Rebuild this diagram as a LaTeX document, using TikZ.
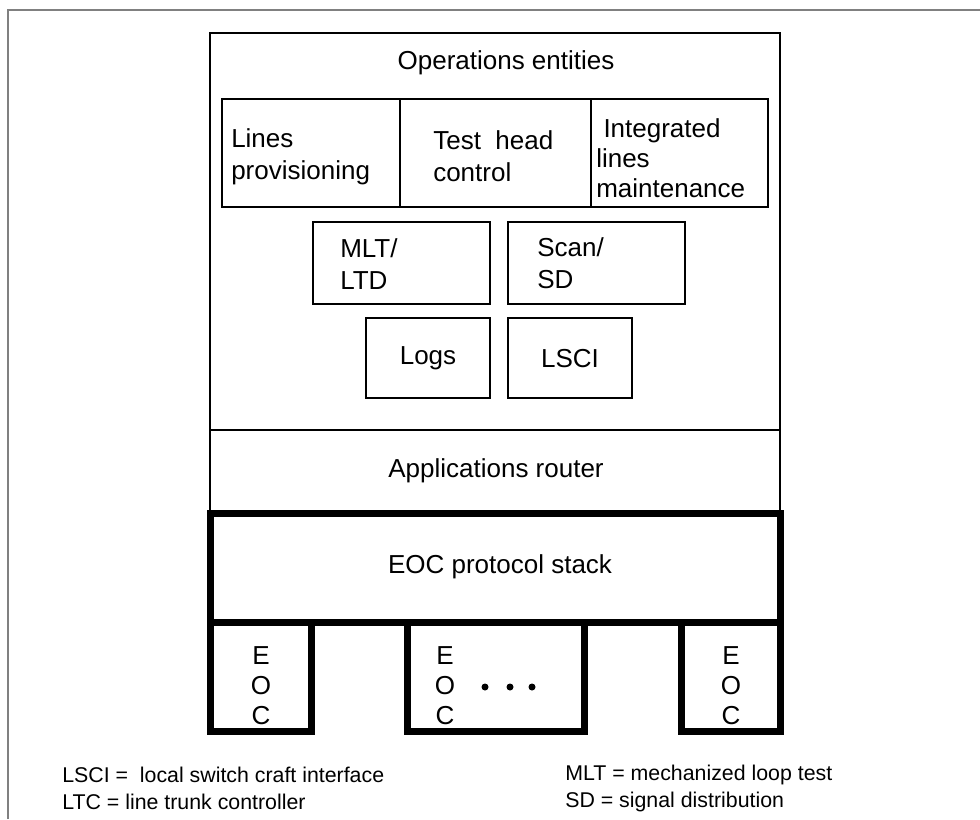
\documentclass[tikz,border=0pt]{standalone}
\usepackage{fontspec}
\setmainfont{Liberation Sans}
\usetikzlibrary{positioning}
\tikzset{
  thin box/.style={line width=1.5pt},
  thick box/.style={line width=5.25pt},
  lbl/.style={font=\fontsize{19.5}{24}\selectfont, inner sep=0pt, align=left},
  note/.style={font=\fontsize{16}{20}\selectfont, inner sep=0pt, anchor=west},
}
\begin{document}
\begin{tikzpicture}[x=0.75pt, y=-0.75pt, line join=miter]
    \useasboundingbox (0,0) rectangle (980,819);
    % frame
    \draw[gray, line width=1.5pt] (8,819) |- (980,10);
    % operations entities + applications router
    \draw[thin box] (210,33) rectangle (780,513);
    \draw[thin box] (210,430) -- (780,430);
    \draw[thin box] (222,99) rectangle (768,207);
    \draw[thin box] (400,99) -- (400,207);
    \draw[thin box] (591,99) -- (591,207);
    \draw[thin box] (313,222) rectangle (490,304);
    \draw[thin box] (508,222) rectangle (685,304);
    \draw[thin box] (366,318) rectangle (490,398);
    \draw[thin box] (508,318) rectangle (632,398);
    % EOC stack and channels
    \draw[thick box] (210,513) rectangle (780,622);
    \foreach \xa/\xb in {210/311, 407/584, 681/780}
        \draw[thick box] (\xa,622) rectangle (\xb,731);

    \node[lbl] (opsent) at (506,63) {Operations entities};
    \node[lbl, anchor=west] (linesprov) at (231,157) {Lines\\provisioning};
    \node[lbl, anchor=west] (testhead) at (433,156) {Test\ \ head\\control};
    \node[lbl, anchor=west, font=\fontsize{19.5}{22.5}\selectfont] (intlines) at (596,158) {\ Integrated\\lines\\maintenance};
    \node[lbl, anchor=west] (mlt) at (340,264) {MLT/\\LTD};
    \node[lbl, anchor=west] (scan) at (537,263) {Scan/\\SD};
    \node[lbl] (logs) at (428,358) {Logs};
    \node[lbl] (lsci) at (570,359) {LSCI};
    \node[lbl] (approuter) at (496,471) {Applications router};
    \node[lbl] (eocstack) at (500,567) {EOC protocol stack};
    \foreach \x/\n in {261/a, 445/b, 731/c}
        \node[lbl, align=center, font=\fontsize{19.5}{22.5}\selectfont] (eoc\n) at (\x,686) {E\\O\\C};
    \foreach \x in {485,510,532}
        \fill (\x,687) circle (3.5);

    \node[note] (keylsci) at (62,775) {LSCI = \ local switch craft interface};
    \node[note] (keyltc) at (62,802) {LTC = line trunk controller};
    \node[note] (keymlt) at (565,775) {MLT = mechanized loop test};
    \node[note] (keysd) at (565,802) {SD = signal distribution};
\end{tikzpicture}
\end{document}
